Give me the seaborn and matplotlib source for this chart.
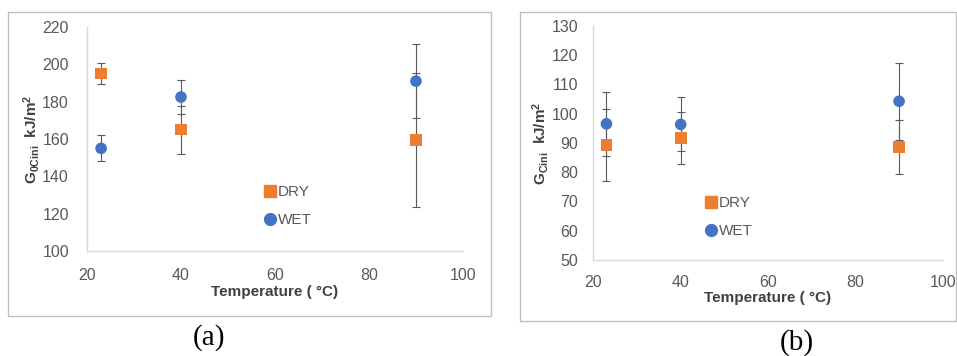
import matplotlib
matplotlib.use("Agg")
import matplotlib.pyplot as plt
import seaborn as sns
import pandas as pd
from matplotlib.patches import Rectangle
from matplotlib.lines import Line2D

sns.set_theme(style="white")
plt.rcParams['font.family'] = ['Liberation Sans', 'DejaVu Sans']
plt.rcParams['mathtext.fontset'] = 'custom'
plt.rcParams['mathtext.rm'] = 'Liberation Sans'
plt.rcParams['mathtext.bf'] = 'Liberation Sans:bold'
plt.rcParams['mathtext.it'] = 'Liberation Sans:italic'

# ---- data ----
temps = [23, 40, 90]
conditions = ["DRY", "WET"]
a_dry = [195, 165, 159.5]
a_dry_err = [5.5, 12.8, 36]
a_wet = [155, 182.5, 191]
a_wet_err = [7, 9, 19.7]
b_dry = [89.2, 91.6, 88.6]
b_dry_err = [12.3, 8.8, 9.2]
b_wet = [96.5, 96.3, 104.2]
b_wet_err = [11, 9.2, 13.2]
x_ticks = [20, 40, 60, 80, 100]
a_yticks = [100, 120, 140, 160, 180, 200, 220]
b_yticks = [50, 60, 70, 80, 90, 100, 110, 120, 130]

ORANGE = "#ED7D31"
BLUE = "#4472C4"
TICK_C = "#595959"
LABEL_C = "#404040"
SPINE_C = "#d9d9d9"
ERR_C = "#5a5a5a"

fig = plt.figure(figsize=(9.57, 3.56), dpi=100)

def make_df(dry, dry_e, wet, wet_e):
    return pd.DataFrame({
        "T": temps + temps,
        "G": dry + wet,
        "err": dry_e + wet_e,
        "cond": ["DRY"] * len(temps) + ["WET"] * len(temps),
    })

def draw_panel(rect, df, ylim, yticks, ylabel, xlab_y, ylab_x, leg_anchor, xpad, ypad):
    ax = fig.add_axes(rect)
    for cond in conditions:
        sub = df[df.cond == cond]
        ax.errorbar(sub["T"], sub["G"], yerr=sub["err"], fmt="none",
                    ecolor=ERR_C, elinewidth=0.8, capsize=3, capthick=0.8, zorder=1)
    sns.scatterplot(data=df, x="T", y="G", hue="cond", style="cond",
                    hue_order=conditions, style_order=conditions,
                    palette={"DRY": ORANGE, "WET": BLUE},
                    markers={"DRY": "s", "WET": "o"},
                    s=70, edgecolor="none", linewidth=0, ax=ax, zorder=3, legend=False)
    ax.set_xlim(20, 100)
    ax.set_ylim(*ylim)
    ax.set_xticks(x_ticks)
    ax.set_yticks(yticks)
    ax.tick_params(axis="both", length=0, labelsize=11.5, colors=TICK_C)
    ax.tick_params(axis="x", pad=xpad)
    ax.tick_params(axis="y", pad=ypad)
    for s in ["top", "right"]:
        ax.spines[s].set_visible(False)
    for s in ["left", "bottom"]:
        ax.spines[s].set_color(SPINE_C)
        ax.spines[s].set_linewidth(1.0)
    ax.set_facecolor("none")
    ax.set_xlabel("Temperature ( °C)", fontsize=11, fontweight="bold", color=LABEL_C)
    ax.set_ylabel(ylabel, fontsize=11, color=LABEL_C)
    ax.xaxis.set_label_coords(0.5, xlab_y)
    ax.xaxis.label.set_va("center")
    ax.yaxis.set_label_coords(ylab_x, 0.5)
    ax.yaxis.label.set_va("center")
    handles = [Line2D([], [], marker="s", color=ORANGE, linestyle="none", markersize=8),
               Line2D([], [], marker="o", color=BLUE, linestyle="none", markersize=8.5)]
    ax.legend(handles, conditions, loc="center left", bbox_to_anchor=leg_anchor,
              frameon=False, fontsize=11, handletextpad=-0.1, labelspacing=0.9,
              labelcolor=TICK_C, borderaxespad=0, handlelength=1.2)
    return ax

df_a = make_df(a_dry, a_dry_err, a_wet, a_wet_err)
df_b = make_df(b_dry, b_dry_err, b_wet, b_wet_err)

draw_panel([0.0909, 0.2949, 0.3929, 0.6292], df_a, (100, 220), a_yticks,
           r"$\mathbf{G_{0Cini}\ \ kJ/m^2}$", -0.183, -0.147, (0.447, 0.20), 12, 13)
draw_panel([0.620, 0.2697, 0.3651, 0.6581], df_b, (50, 130), b_yticks,
           r"$\mathbf{G_{Cini}\ \ kJ/m^2}$", -0.162, -0.150, (0.293, 0.183), 11, 11)

fig.add_artist(Rectangle((0.00836, 0.1124), 0.5047, 0.8539, transform=fig.transFigure,
                         fill=False, edgecolor="#bfbfbf", linewidth=1.0))
fig.add_artist(Rectangle((0.5434, 0.0983), 0.4556, 0.868, transform=fig.transFigure,
                         fill=False, edgecolor="#bfbfbf", linewidth=1.0))

fig.text(0.2184, 0.0506, "(a)", ha="center", va="center", fontsize=21,
         family=["Liberation Serif", "DejaVu Serif"], color="black")
fig.text(0.8328, 0.039, "(b)", ha="center", va="center", fontsize=21,
         family=["Liberation Serif", "DejaVu Serif"], color="black")

fig.savefig("out.png", dpi=100)
